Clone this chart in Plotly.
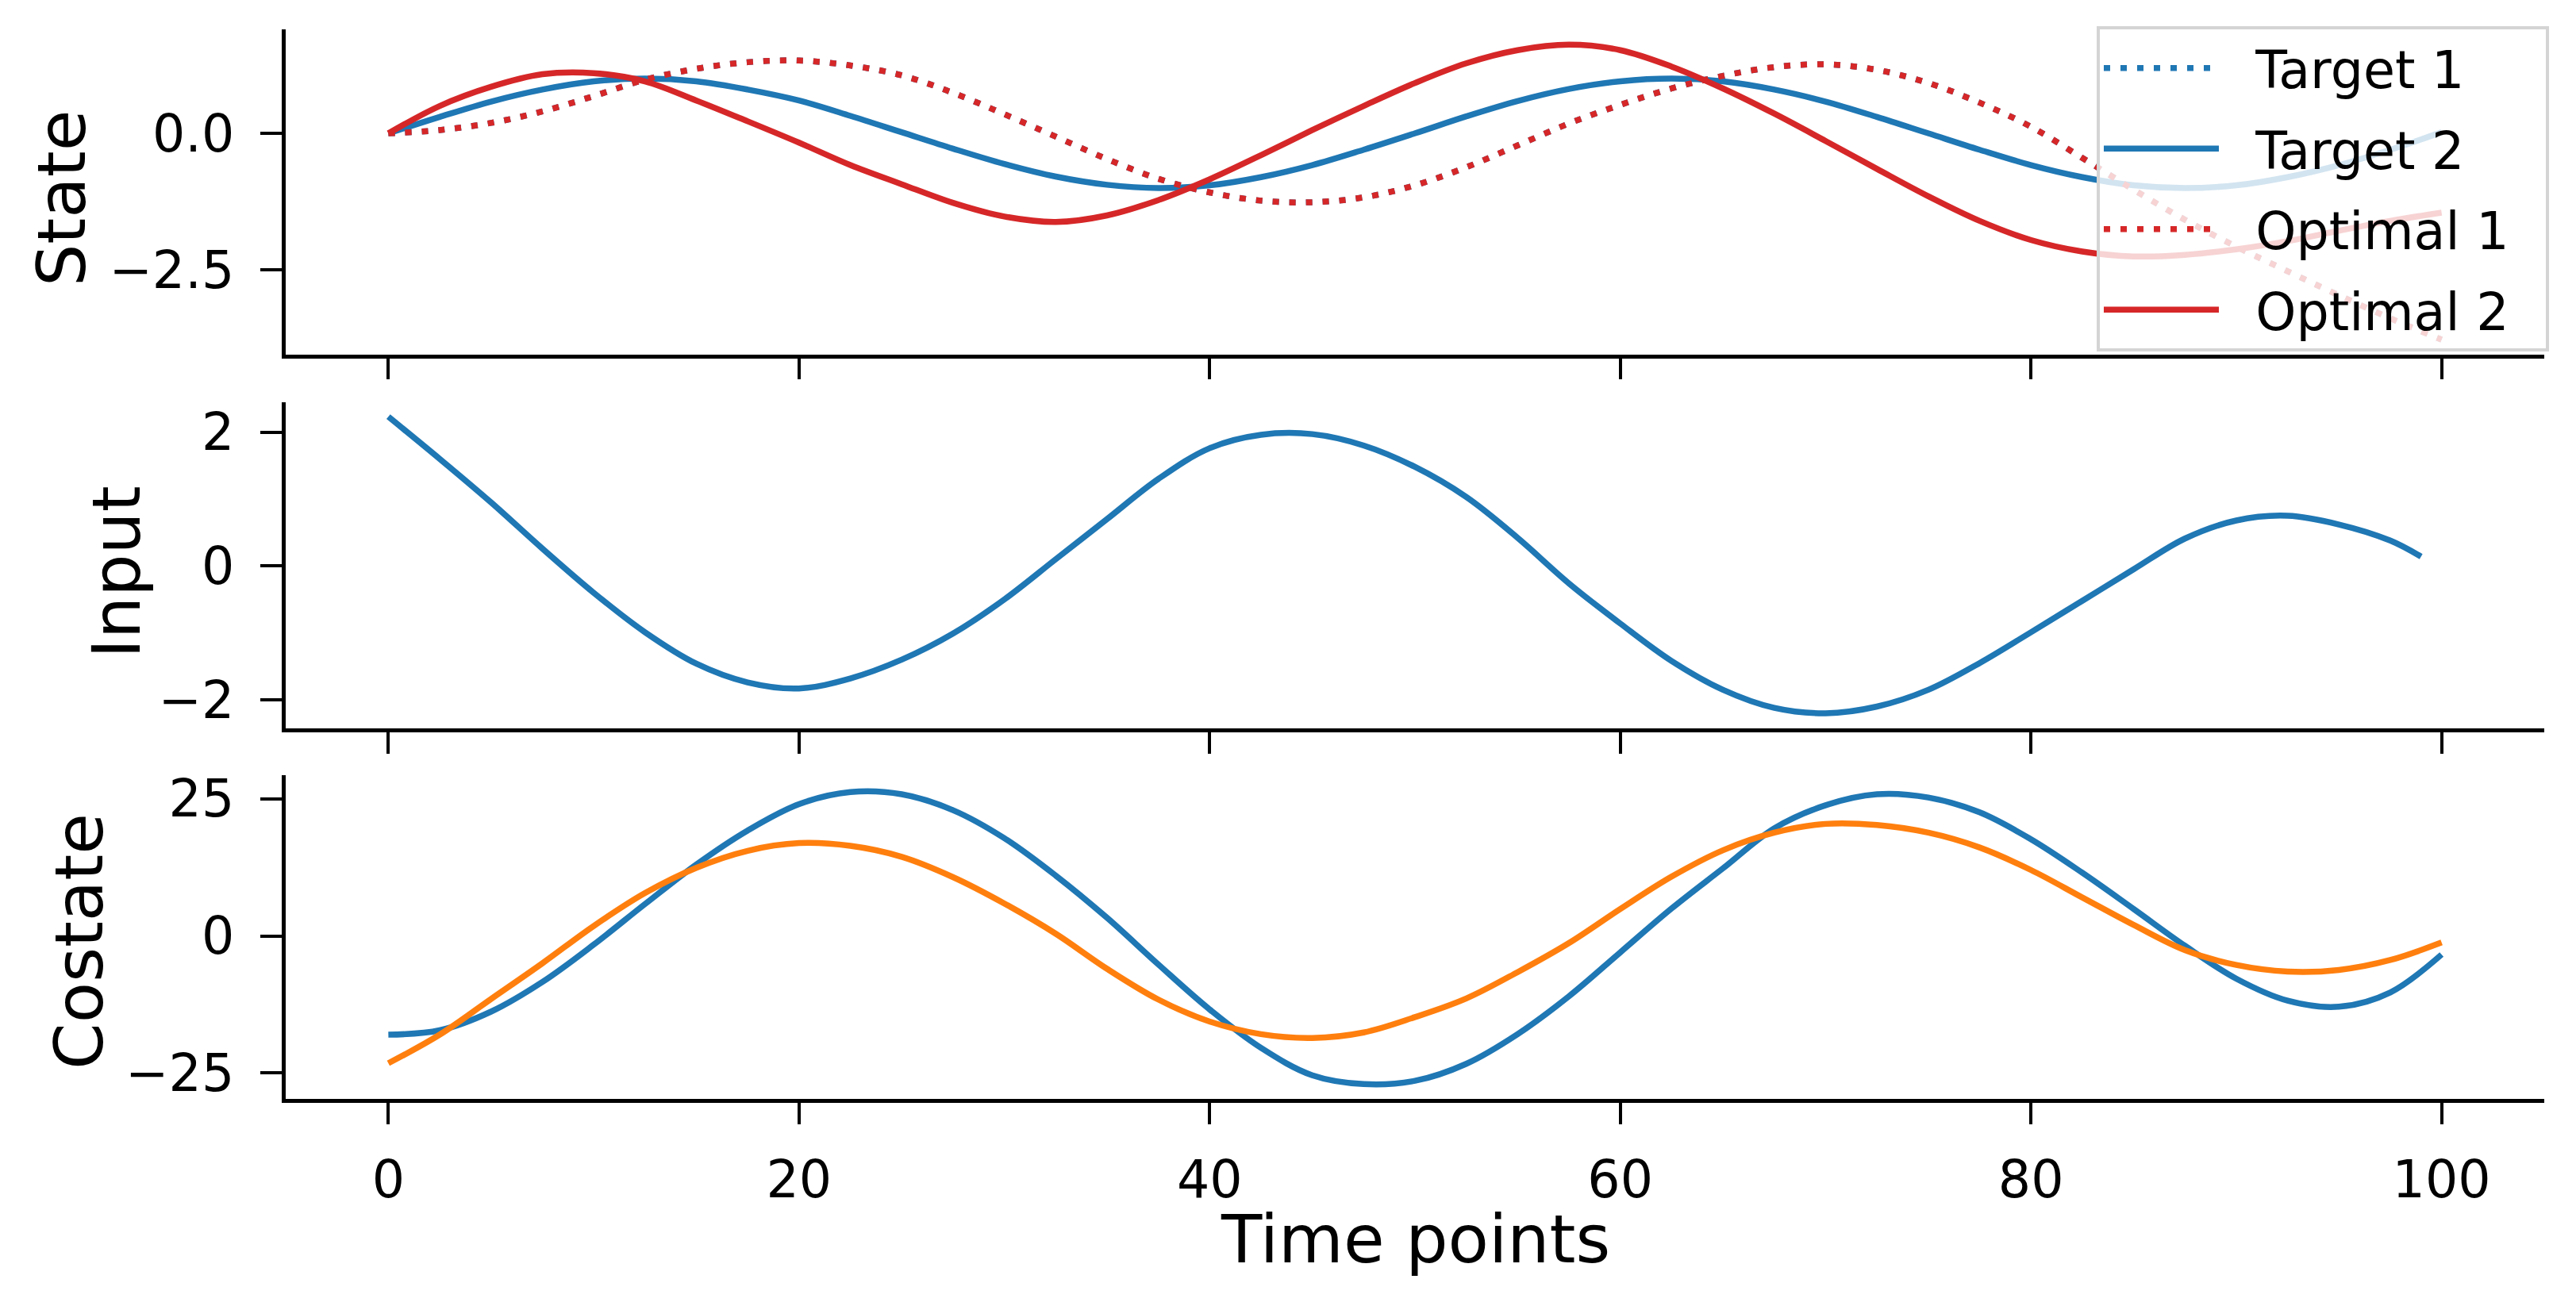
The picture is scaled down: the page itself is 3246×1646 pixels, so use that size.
import plotly.graph_objects as go

# ---------------- data ----------------
t_grid = [0, 2.5, 5, 7.5, 10, 12.5, 15, 17.5, 20, 22.5, 25, 27.5, 30, 32.5, 35, 37.5,
          40, 42.5, 45, 47.5, 50, 52.5, 55, 57.5, 60, 62.5, 65, 67.5, 70, 72.5, 75,
          77.5, 80, 82.5, 85, 87.5, 90, 92.5, 95, 97.5, 100]

t_input = [0, 2.5, 5, 7.5, 10, 12.5, 15, 17.5, 20, 22.5, 25, 27.5, 30, 32.5, 35, 37.5,
           40, 42.5, 45, 47.5, 50, 52.5, 55, 57.5, 60, 62.5, 65, 67.5, 70, 72.5, 75,
           77.5, 80, 82.5, 85, 87.5, 90, 92.5, 95, 97.5, 99]

# Target 1 lies exactly under Optimal 1 in the picture
target_1 = [0.0, 0.06, 0.19, 0.40, 0.68, 0.98, 1.18, 1.30, 1.33, 1.24, 1.06, 0.74, 0.35,
            -0.06, -0.47, -0.83, -1.08, -1.23, -1.26, -1.17, -0.95, -0.62, -0.22, 0.18,
            0.52, 0.82, 1.05, 1.21, 1.26, 1.16, 0.92, 0.56, 0.12, -0.45, -1.03, -1.58,
            -2.07, -2.52, -2.96, -3.38, -3.77]

target_2 = [0.0, 0.30, 0.58, 0.80, 0.95, 1.00, 0.95, 0.80, 0.60, 0.32, 0.02, -0.28, -0.56,
            -0.79, -0.94, -1.00, -0.95, -0.80, -0.58, -0.30, 0.0, 0.31, 0.59, 0.81, 0.95,
            1.00, 0.95, 0.80, 0.58, 0.30, 0.0, -0.30, -0.58, -0.80, -0.95, -1.00, -0.95,
            -0.80, -0.58, -0.30, 0.02]

optimal_1 = [0.0, 0.06, 0.19, 0.40, 0.68, 0.98, 1.18, 1.30, 1.33, 1.24, 1.06, 0.74, 0.35,
             -0.06, -0.47, -0.83, -1.08, -1.23, -1.26, -1.17, -0.95, -0.62, -0.22, 0.18,
             0.52, 0.82, 1.05, 1.21, 1.26, 1.16, 0.92, 0.56, 0.12, -0.45, -1.03, -1.58,
             -2.07, -2.52, -2.96, -3.38, -3.77]

optimal_2 = [0.0, 0.50, 0.85, 1.08, 1.10, 0.95, 0.60, 0.22, -0.17, -0.58, -0.93, -1.27,
             -1.52, -1.62, -1.50, -1.22, -0.84, -0.40, 0.06, 0.50, 0.92, 1.28, 1.52, 1.62,
             1.52, 1.22, 0.82, 0.36, -0.14, -0.65, -1.15, -1.60, -1.95, -2.16, -2.25,
             -2.22, -2.12, -1.97, -1.78, -1.60, -1.45]

input_u = [2.23, 1.60, 0.95, 0.26, -0.40, -0.99, -1.46, -1.74, -1.83, -1.68, -1.40, -1.01,
           -0.50, 0.10, 0.70, 1.30, 1.76, 1.96, 1.97, 1.80, 1.48, 1.03, 0.42, -0.26, -0.86,
           -1.42, -1.85, -2.12, -2.20, -2.10, -1.85, -1.45, -0.99, -0.52, -0.05, 0.41,
           0.68, 0.75, 0.62, 0.38, 0.14]

costate_1 = [-18.0, -17.2, -13.8, -8.4, -1.6, 5.8, 13.0, 19.2, 24.0, 26.2, 25.8, 22.9, 17.8,
             11.0, 3.3, -5.2, -13.4, -20.4, -25.4, -27.0, -26.4, -23.3, -17.9, -11.0, -3.0,
             5.0, 12.3, 19.6, 23.8, 25.8, 25.2, 22.5, 17.6, 11.5, 4.9, -1.8, -7.8, -11.8,
             -12.9, -10.3, -3.4]

costate_2 = [-23.2, -18.0, -11.5, -5.0, 1.8, 7.8, 12.4, 15.5, 16.9, 16.4, 14.4, 10.7, 5.9,
             0.4, -6.0, -11.6, -15.6, -17.9, -18.6, -17.6, -14.8, -11.4, -6.6, -1.3, 4.9,
             10.8, 15.6, 18.8, 20.4, 20.2, 18.8, 16.1, 12.0, 7.0, 2.0, -2.6, -5.3, -6.5,
             -6.2, -4.4, -1.2]

x_tick_vals = [0, 20, 40, 60, 80, 100]
x_tick_text = ["0", "20", "40", "60", "80", "100"]
state_tick_vals = [-2.5, 0.0]
state_tick_text = ["\u22122.5", "0.0"]
input_tick_vals = [-2, 0, 2]
input_tick_text = ["\u22122", "0", "2"]
costate_tick_vals = [-25, 0, 25]
costate_tick_text = ["\u221225", "0", "25"]

legend_names = ["Target 1", "Target 2", "Optimal 1", "Optimal 2"]

# ---------------- style ----------------
BLUE = "#1f77b4"
RED = "#d62728"
ORANGE = "#ff7f0e"
FONT = "DejaVu Sans"
TICK_SIZE = 65
LABEL_SIZE = 84
LW = 7.5
DOT = "8px,13px"
SMOOTH = 1.0
PAD = "\u00a0\u00a0"

fig = go.Figure()

state_series = [
    (target_1, BLUE, DOT),
    (target_2, BLUE, "solid"),
    (optimal_1, RED, DOT),
    (optimal_2, RED, "solid"),
]
for name, (vals, col, dash) in zip(legend_names, state_series):
    fig.add_trace(go.Scatter(
        x=t_grid, y=vals, mode="lines", name=PAD + name + PAD, legendgroup=name,
        line=dict(color=col, width=LW, dash=dash, shape="spline", smoothing=SMOOTH),
        xaxis="x3", yaxis="y3"))

fig.add_trace(go.Scatter(
    x=t_input, y=input_u, mode="lines", showlegend=False,
    line=dict(color=BLUE, width=LW, shape="spline", smoothing=SMOOTH),
    xaxis="x2", yaxis="y2"))

fig.add_trace(go.Scatter(
    x=t_grid, y=costate_1, mode="lines", showlegend=False,
    line=dict(color=BLUE, width=LW, shape="spline", smoothing=SMOOTH),
    xaxis="x", yaxis="y"))
fig.add_trace(go.Scatter(
    x=t_grid, y=costate_2, mode="lines", showlegend=False,
    line=dict(color=ORANGE, width=LW, shape="spline", smoothing=SMOOTH),
    xaxis="x", yaxis="y"))

axis_common = dict(
    showline=True, linecolor="black", linewidth=4.5, mirror=False,
    ticks="outside", ticklen=27, tickwidth=4.3, tickcolor="black",
    showgrid=False, zeroline=False,
    tickfont=dict(family=FONT, size=TICK_SIZE, color="black"),
)

fig.update_layout(
    width=3246, height=1646,
    margin=dict(l=360, r=40, t=37, b=261),
    paper_bgcolor="white", plot_bgcolor="white",
    font=dict(family=FONT, color="black"),
    xaxis=dict(domain=[0, 1], anchor="y", range=[-5, 105],
               tickvals=x_tick_vals, ticktext=x_tick_text, ticklabelstandoff=14,
               **axis_common),
    xaxis2=dict(domain=[0, 1], anchor="y2", range=[-5, 105], matches="x",
                tickvals=x_tick_vals, showticklabels=False, **axis_common),
    xaxis3=dict(domain=[0, 1], anchor="y3", range=[-5, 105], matches="x",
                tickvals=x_tick_vals, showticklabels=False, **axis_common),
    yaxis=dict(domain=[0, 0.3023], anchor="x", range=[-29.7, 29.2],
               tickvals=costate_tick_vals, ticktext=costate_tick_text,
               ticklabelstandoff=20, **axis_common),
    yaxis2=dict(domain=[0.3462, 0.6516], anchor="x2", range=[-2.43, 2.45],
                tickvals=input_tick_vals, ticktext=input_tick_text,
                ticklabelstandoff=20, **axis_common),
    yaxis3=dict(domain=[0.6961, 1.0], anchor="x3", range=[-4.04, 1.90],
                tickvals=state_tick_vals, ticktext=state_tick_text,
                ticklabelstandoff=20, **axis_common),
    legend=dict(
        x=1.0021, y=1.003, xanchor="right", yanchor="top",
        bgcolor="rgba(255,255,255,0.8)", bordercolor="#d4d4d4", borderwidth=4,
        font=dict(family=FONT, size=TICK_SIZE, color="black"),
        itemwidth=145, tracegroupgap=14, traceorder="grouped",
    ),
    showlegend=True,
)

labels = [
    ("State", -0.0991, 0.842),
    ("Input", -0.0748, 0.4928),
    ("Costate", -0.0914, 0.1476),
]
for text, x, y in labels:
    fig.add_annotation(text=text, x=x, y=y, xref="paper", yref="paper",
                       xanchor="center", yanchor="middle", textangle=-90,
                       showarrow=False,
                       font=dict(family=FONT, size=LABEL_SIZE, color="black"))

fig.add_annotation(text="Time points", x=0.5, y=-0.131, xref="paper", yref="paper",
                   xanchor="center", yanchor="middle", showarrow=False,
                   font=dict(family=FONT, size=LABEL_SIZE, color="black"))

fig.write_html("out.html")
